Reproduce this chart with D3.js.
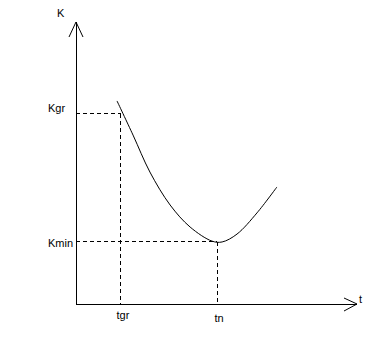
<!DOCTYPE html>
<html>
<head>
<meta charset="utf-8">
<script src="https://cdn.jsdelivr.net/npm/d3@7"></script>
<style>
  body { margin: 0; background: #fff; }
  svg { display: block; }
  text { font-family: "Liberation Sans", Arial, sans-serif; font-size: 11px; fill: #000; }
</style>
</head>
<body>
<div id="chart"></div>
<script>
// curve K(t) (arbitrary units 0..10)
const curveT = [1.46, 2.03, 2.63, 3.35, 4.06, 4.84, 5.20, 5.73, 6.44, 7.15];
const curveK = [7.20, 5.99, 4.68, 3.51, 2.73, 2.23, 2.20, 2.48, 3.23, 4.15];

// marked points
const guideNames = ["gr", "min"];
const guideT = [1.60, 5.02];
const guideK = [6.74, 2.20];
const tLabels = ["tgr", "tn"];
const kLabels = ["Kgr", "Kmin"];

const W = 386, H = 351;
const x = d3.scaleLinear().domain([0, 10]).range([76, 357]);
const y = d3.scaleLinear().domain([0, 10]).range([304, 22]);

const svg = d3.select("#chart").append("svg")
  .attr("width", W).attr("height", H);

// axes
const axes = svg.append("g")
  .attr("stroke", "#000").attr("stroke-width", 1).attr("fill", "none")
  .attr("shape-rendering", "crispEdges");
axes.append("line").attr("x1", x(0)).attr("y1", y(0)).attr("x2", x(0)).attr("y2", y(10));
axes.append("line").attr("x1", x(0)).attr("y1", y(0)).attr("x2", x(10)).attr("y2", y(0));

// arrow heads
const heads = svg.append("g").attr("stroke", "#000").attr("fill", "none");
heads.append("path").attr("d", `M${x(0) - 7},${y(10) + 15}L${x(0)},${y(10)}L${x(0) + 7},${y(10) + 15}`);
heads.append("path").attr("d", `M${x(10) - 13},${y(0) - 6}L${x(10)},${y(0)}L${x(10) - 13},${y(0) + 7}`);

// axis names
svg.append("text").attr("x", x(0) - 19).attr("y", y(10) - 5).text("K");
svg.append("text").attr("x", x(10) + 2).attr("y", y(0) - 1).text("t");

// dashed guides
const guides = svg.append("g")
  .attr("stroke", "#000").attr("stroke-dasharray", "4,3")
  .attr("shape-rendering", "crispEdges");
guideNames.forEach((n, i) => {
  guides.append("line")
    .attr("x1", x(0)).attr("y1", y(guideK[i]))
    .attr("x2", x(guideT[i])).attr("y2", y(guideK[i]));
  guides.append("line")
    .attr("x1", x(guideT[i])).attr("y1", y(guideK[i]))
    .attr("x2", x(guideT[i])).attr("y2", y(0));
});

// labels
svg.selectAll(".klab").data(kLabels).enter().append("text")
  .attr("class", "klab")
  .attr("x", x(0) - 28)
  .attr("y", (d, i) => y(guideK[i]) + (i === 0 ? -2 : 5))
  .text(d => d);

svg.selectAll(".tlab").data(tLabels).enter().append("text")
  .attr("class", "tlab")
  .attr("text-anchor", "middle")
  .attr("x", (d, i) => x(guideT[i]) + 2)
  .attr("y", (d, i) => y(0) + (i === 0 ? 15 : 18))
  .text(d => d);

// curve
const pts = curveT.map((t, i) => [t, curveK[i]]);
const line = d3.line().x(d => x(d[0])).y(d => y(d[1])).curve(d3.curveCatmullRom.alpha(0.5));
svg.append("path")
  .datum(pts)
  .attr("d", line)
  .attr("fill", "none")
  .attr("stroke", "#000")
  .attr("stroke-width", 1);
</script>
</body>
</html>
